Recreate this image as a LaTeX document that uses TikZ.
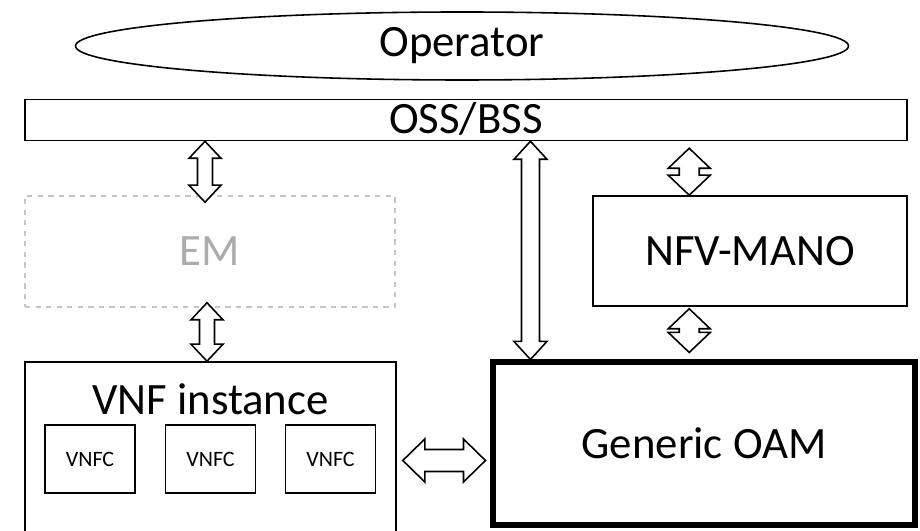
\documentclass[tikz,border=0pt]{standalone}
\usepackage{fontspec}
\setmainfont{Carlito}
\usetikzlibrary{calc,shapes.geometric}

% hollow double-headed block arrows: #1 start, #2 end, #3 shaft half width, #4 head half width, #5 head length
\newcommand{\vbiarrow}[5]{%
  \draw[blockarrow] let \p1=(#1), \p2=(#2) in
    (\x1,\y1) -- (\x1+#4,\y1-#5) -- (\x1+#3,\y1-#5) -- (\x1+#3,\y2+#5) -- (\x1+#4,\y2+#5)
    -- (\x1,\y2) -- (\x1-#4,\y2+#5) -- (\x1-#3,\y2+#5) -- (\x1-#3,\y1-#5) -- (\x1-#4,\y1-#5) -- cycle;}
\newcommand{\hbiarrow}[5]{%
  \draw[blockarrow] let \p1=(#1), \p2=(#2) in
    (\x1,\y1) -- (\x1+#5,\y1+#4) -- (\x1+#5,\y1+#3) -- (\x2-#5,\y1+#3) -- (\x2-#5,\y1+#4)
    -- (\x2,\y1) -- (\x2-#5,\y1-#4) -- (\x2-#5,\y1-#3) -- (\x1+#5,\y1-#3) -- (\x1+#5,\y1-#4) -- cycle;}

\begin{document}
\begin{tikzpicture}[every node/.style={inner sep=0pt, font=\fontsize{25.5}{30}\selectfont},
  box/.style={draw, line width=0.9pt},
  embox/.style={draw=gray!45, line width=0.9pt, dashed, text=gray!65},
  oambox/.style={draw, line width=2.9pt},
  vnfcbox/.style={draw, line width=0.9pt, minimum width=1.8cm, minimum height=1.36cm, font=\fontsize{12.5}{15}\selectfont},
  blockarrow/.style={draw, line width=0.9pt, fill=white, line join=miter}]
  \useasboundingbox (0,0) rectangle (18.4,10.6);

  \node[box, ellipse, minimum width=15.46cm, minimum height=1.36cm] (op) at (9.24,9.68) {Operator};
  \node[box, minimum width=17.64cm, minimum height=0.82cm, text height=19.2pt, text depth=4pt] (oss) at (9.32,8.2) {OSS/BSS};

  \node[embox, minimum width=7.4cm, minimum height=2.22cm] (em) at (4.2,5.57) {EM};
  \node[box, minimum width=6.28cm, minimum height=2.2cm] (mano) at (15.0,5.58) {NFV-MANO};

  \node[box, minimum width=7.42cm, minimum height=3.56cm] (vnf) at (4.21,1.58) {};
  \node[anchor=base] (vnflabel) at (4.21,2.3) {VNF instance};
  \node[vnfcbox] (vnfc1) at (1.8,1.42) {VNFC};
  \node[vnfcbox] (vnfc2) at (4.21,1.42) {VNFC};
  \node[vnfcbox] (vnfc3) at (6.61,1.42) {VNFC};

  \node[oambox, minimum width=8.44cm, minimum height=3.26cm] (oam) at (14.08,1.73) {Generic OAM};

  \coordinate (p1) at ($(em.north)+(-0.1,-0.14)$);
  \coordinate (p2) at ($(em.south)+(-0.06,0.1)$);
  \coordinate (p3) at ($(oam.north west)+(0.8,0)$);
  \coordinate (p4) at ($(mano.north west)+(1.94,0)$);
  \coordinate (p5) at ($(vnf.east)+(0.12,-0.19)$);

  \vbiarrow{oss.south -| p1}{p1}{0.15cm}{0.32cm}{0.34cm}
  \vbiarrow{p2}{vnf.north -| p2}{0.15cm}{0.32cm}{0.34cm}
  \vbiarrow{oss.south -| p3}{p3}{0.18cm}{0.33cm}{0.36cm}
  \vbiarrow{$(oss.south -| p4)+(0,-0.14)$}{p4}{0.2cm}{0.42cm}{0.4cm}
  \vbiarrow{$(mano.south -| p4)+(0,-0.04)$}{$(oam.north -| p4)+(0,0.14)$}{0.2cm}{0.42cm}{0.4cm}
  \hbiarrow{p5}{$(oam.west |- p5)+(-0.1,0)$}{0.22cm}{0.43cm}{0.44cm}
\end{tikzpicture}
\end{document}
